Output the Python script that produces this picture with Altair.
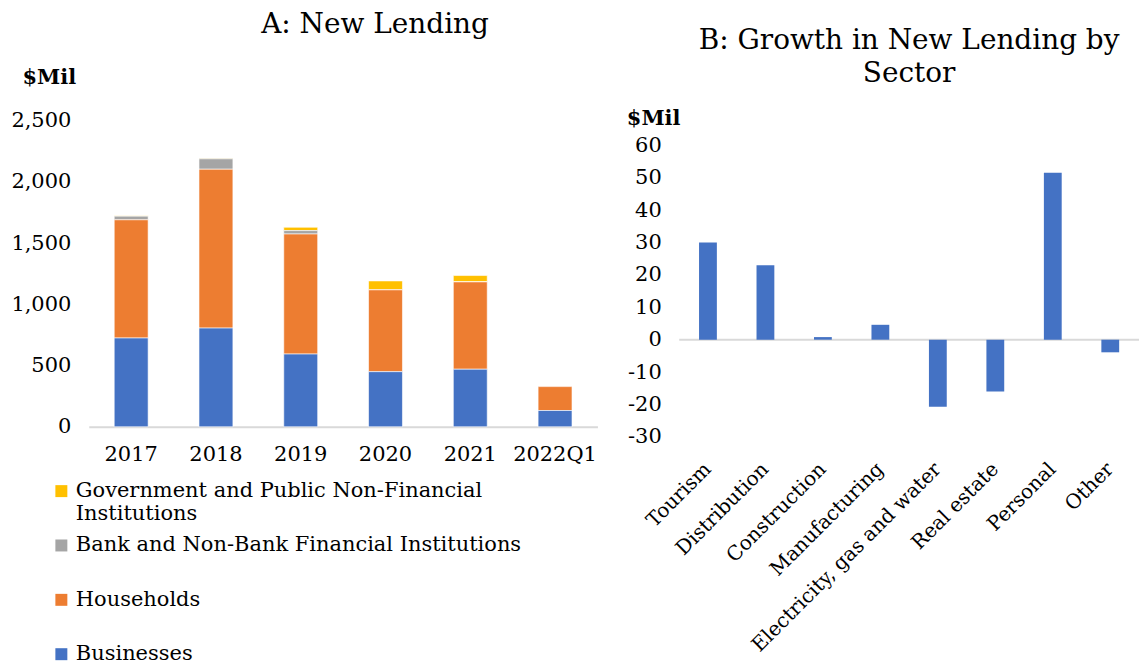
import altair as alt
import pandas as pd

FONT = "DejaVu Serif"

# ---- Panel A data ----
years = ["2017", "2018", "2019", "2020", "2021", "2022Q1"]
businesses = [725, 806, 594, 450, 470, 133]
households = [965, 1297, 980, 668, 713, 195]
bank_nbfi = [30, 85, 28, 0, 0, 0]
government = [4, 4, 27, 73, 52, 0]

series_names = [
    "Government and Public Non-Financial Institutions",
    "Bank and Non-Bank Financial Institutions",
    "Households",
    "Businesses",
]
series_colors = ["#FFC000", "#A5A5A5", "#ED7D31", "#4472C4"]
series_values = [government, bank_nbfi, households, businesses]
stack_rank = [3, 2, 1, 0]

# ---- Panel B data ----
sectors = ["Tourism", "Distribution", "Construction", "Manufacturing",
           "Electricity, gas and water", "Real estate", "Personal", "Other"]
growth = [30.0, 23.0, 0.8, 4.6, -20.7, -16.0, 51.6, -3.9]
growth_ticks = [-30, -20, -10, 0, 10, 20, 30, 40, 50, 60]

rows = []
for name, vals, rank in zip(series_names, series_values, stack_rank):
    for y, v in zip(years, vals):
        rows.append({"year": y, "series": name, "value": v, "rank": rank})
dfA = pd.DataFrame(rows)
dfB = pd.DataFrame({"sector": sectors, "growth": growth})

label_expr = (
    "datum.label == 'Government and Public Non-Financial Institutions' ? "
    "['Government and Public Non-Financial', 'Institutions'] : [datum.label, '']"
)

TICK_FS = 21

left = alt.Chart(dfA).mark_bar(stroke="white", strokeWidth=0.6).encode(
    x=alt.X("year:N", sort=years,
            scale=alt.Scale(paddingInner=0.6, paddingOuter=0.3),
            axis=alt.Axis(title=None, labelAngle=0, ticks=False, domainColor="#D9D9D9",
                          domainWidth=2, labelPadding=17, labelFontSize=TICK_FS, labelFont=FONT,
                          labelColor="black")),
    y=alt.Y("value:Q", scale=alt.Scale(domain=[0, 2500], nice=False),
            axis=alt.Axis(title="$Mil", titleAngle=0, titleX=-67, titleY=-37,
                          titleAlign="left", titleBaseline="alphabetic", titleFont=FONT,
                          titleFontSize=21, titleFontWeight="bold", titleColor="black",
                          values=[0, 500, 1000, 1500, 2000, 2500], format=",.0f",
                          grid=False, domain=False, ticks=False, labelPadding=18,
                          labelFontSize=TICK_FS, labelFont=FONT, labelColor="black")),
    color=alt.Color("series:N",
                    scale=alt.Scale(domain=series_names, range=series_colors),
                    legend=alt.Legend(title=None, orient="none", legendX=-38, legendY=361,
                                      symbolType="square", symbolSize=144,
                                      symbolStrokeWidth=0, labelFont=FONT,
                                      labelFontSize=21, labelLimit=700,
                                      labelColor="black",
                                      labelExpr=label_expr, rowPadding=9.5,
                                      padding=0, labelOffset=4)),
    order=alt.Order("rank:Q"),
).properties(
    width=510, height=307,
    title=alt.TitleParams("A: New Lending", font=FONT, fontSize=28, fontWeight="normal",
                          anchor="middle", frame="group", dx=32, offset=28, color="black"),
)

y_axis_b = alt.Axis(title="$Mil", titleAngle=0, titleX=-53, titleY=4,
                    titleAlign="left", titleBaseline="alphabetic", titleFont=FONT,
                    titleFontSize=21, titleFontWeight="bold", titleColor="black",
                    values=growth_ticks, tickCount=len(growth_ticks), grid=False, domain=False,
                    labelExpr="datum.value < 0 ? '-' + abs(datum.value) : '' + datum.value",
                    labelOverlap=False, labelFlush=False,
                    ticks=False, labelPadding=18, labelFontSize=TICK_FS, labelFont=FONT,
                    labelColor="black")
y_scale_b = alt.Scale(domain=[-30, 67.7], nice=False, zero=False)

zero = alt.Chart(pd.DataFrame({"growth": [0.0]})).mark_rule(color="#D9D9D9", strokeWidth=2).encode(
    y=alt.Y("growth:Q", scale=y_scale_b, axis=y_axis_b)
)
bars_b = alt.Chart(dfB).mark_bar(color="#4472C4").encode(
    x=alt.X("sector:N", sort=sectors,
            scale=alt.Scale(paddingInner=0.69, paddingOuter=0.345),
            axis=alt.Axis(title=None, labelAngle=-45, labelAlign="right",
                          labelBaseline="middle", ticks=False, domain=False,
                          labelPadding=29, labelFontSize=20, labelFont=FONT,
                          labelColor="black", labelLimit=400, labelOverlap=False)),
    y=alt.Y("growth:Q", scale=y_scale_b, axis=y_axis_b),
)
right = alt.layer(zero, bars_b).properties(
    width=461, height=317,
    title=alt.TitleParams(["B: Growth in New Lending by", "Sector"], font=FONT, fontSize=28,
                          fontWeight="normal", anchor="middle", frame="group", offset=20,
                          lineHeight=33, color="black"),
)

chart = alt.HConcatChart(hconcat=[left, right], spacing=82, bounds="flush").configure_view(
    stroke=None
).configure_axisY(labelOverlap=False).properties(
    padding={"left": 2, "top": 2, "right": 0, "bottom": 0}
)

chart.save("out.html", embed_options={"renderer": "svg", "actions": False})
